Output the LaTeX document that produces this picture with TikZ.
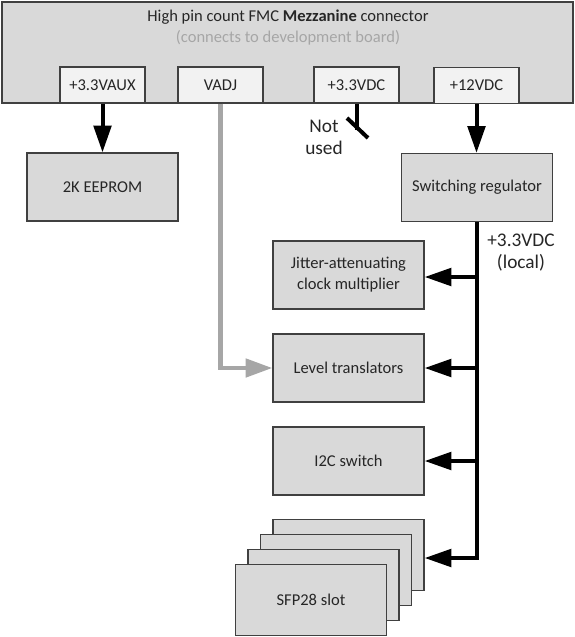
\documentclass[tikz,border=0pt]{standalone}
\usepackage{fontspec}
\setmainfont{Carlito}
\usetikzlibrary{arrows.meta}
\definecolor{boxfill}{HTML}{D9D9D9}
\definecolor{pinfill}{HTML}{F2F2F2}
\definecolor{edgec}{HTML}{404040}
\definecolor{vgray}{HTML}{A6A6A6}
\begin{document}
\begin{tikzpicture}[x=0.75pt,y=-0.75pt,
  every node/.style={font=\fontsize{12.4}{15.75}\selectfont, inner sep=0pt, text=black!85},
  blk/.style={draw=edgec, line width=0.9pt, fill=boxfill, minimum width=113.25pt, minimum height=51pt, align=center},
  sfpbox/.style={blk, minimum height=53pt},
  pinbox/.style={draw=edgec, line width=0.9pt, fill=pinfill, minimum width=63.75pt, minimum height=27pt},
  biglabel/.style={align=center, font=\fontsize{14.5}{16}\selectfont},
  pwr/.style={line width=3pt, -{Triangle[length=20pt,width=13pt]}},
  gline/.style={vgray, line width=3.4pt, -{Triangle[length=20pt,width=13.5pt]}},
  plain/.style={line width=3pt}
]
\useasboundingbox (0,0) rectangle (575,637);
% connector block
\node[draw=edgec, line width=0.9pt, fill=boxfill, minimum width=428.25pt, minimum height=75.75pt] (main) at (287.5,52.5) {};
\node (title) at (288,17) {High pin count FMC \textbf{Mezzanine} connector};
\node[text=vgray] (sub) at (288,38) {(connects to development board)};
% pins
\node[pinbox] (aux) at (102.5,85) {+3.3VAUX};
\node[pinbox] (vadj) at (220.5,85) {VADJ};
\node[pinbox] (v33) at (356.5,85) {+3.3VDC};
\node[pinbox] (v12) at (476.5,85.5) {+12VDC};
% blocks
\node[blk] (eep) at (102.5,187) {2K EEPROM};
\node[blk] (reg) at (477,187.5) {Switching regulator};
\node[blk] (jit) at (348.5,275) {Jitter-attenuating\\clock multiplier};
\node[blk] (lvl) at (348.5,368) {Level translators};
\node[blk] (i2c) at (348.5,461) {I2C switch};
\node[sfpbox] (sfpa) at (348.5,555) {};
\node[sfpbox] (sfpb) at (336,570) {};
\node[sfpbox] (sfpc) at (323.5,585) {};
\node[sfpbox] (sfpd) at (311,600) {SFP28 slot};
% labels
\node[biglabel] (notused) at (324,137.5) {Not\\used};
\node[biglabel] (local) at (521,252.5) {+3.3VDC\\(local)};
% connectors
\draw[pwr] (aux.south) -- (eep.north);
\draw[pwr] (v12.south) -- (v12.south |- reg.north);
\draw[plain] (v33.south) -- ++(0,26);
\draw[plain] (347,118) -- (368,138);
\draw[gline] (vadj.south) |- (lvl.west);
\draw[pwr, line join=miter] (reg.south) |- ([yshift=-2.25pt]sfpa.east);
\draw[pwr] (reg.south |- jit.east) ++(0,2) -- ([yshift=-1.5pt]jit.east);
\draw[pwr] (reg.south |- lvl.east) -- (lvl.east);
\draw[pwr] (reg.south |- i2c.east) -- (i2c.east);
\end{tikzpicture}
\end{document}
